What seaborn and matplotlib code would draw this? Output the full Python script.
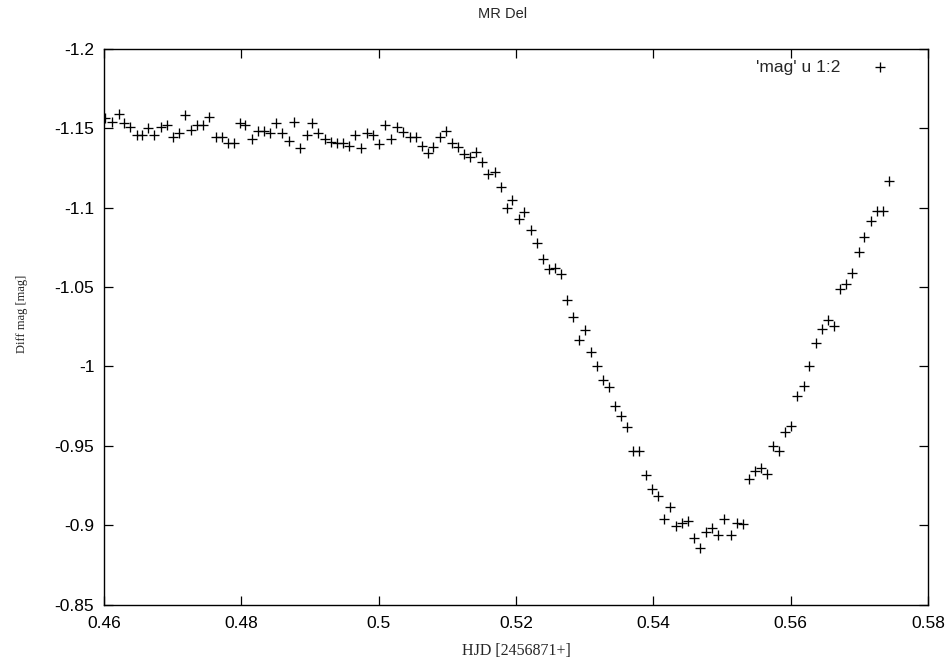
import matplotlib
matplotlib.use("Agg")
import matplotlib.pyplot as plt
import seaborn as sns
import pandas as pd

# ---- data ----
hjd = [
    0.46015, 0.46112, 0.46219, 0.46291, 0.46379, 0.46476, 0.46558, 0.46645, 0.46733, 0.46826,
    0.46914, 0.47001, 0.47088, 0.47185, 0.47268, 0.47355, 0.47447, 0.47534, 0.47627, 0.47715,
    0.47802, 0.47890, 0.47982, 0.48059, 0.48156, 0.48244, 0.48331, 0.48419, 0.48506, 0.48593,
    0.48691, 0.48773, 0.48860, 0.48953, 0.49035, 0.49122, 0.49216, 0.49303, 0.49390, 0.49478,
    0.49565, 0.49657, 0.49744, 0.49832, 0.49919, 0.50007, 0.50094,
    0.50181, 0.50273, 0.50360, 0.50458, 0.50540, 0.50628, 0.50715, 0.50797, 0.50895, 0.50982,
    0.51065, 0.51152, 0.51244, 0.51332, 0.51419, 0.51506, 0.51594, 0.51688, 0.51776, 0.51863,
    0.51948, 0.52038, 0.52122, 0.52216, 0.52303, 0.52390, 0.52482, 0.52570, 0.52657, 0.52749,
    0.52836, 0.52924, 0.53011, 0.53098, 0.53186, 0.53273, 0.53361, 0.53448, 0.53535, 0.53623,
    0.53710, 0.53798, 0.53891, 0.53978, 0.54066, 0.54158, 0.54245, 0.54332, 0.54420, 0.54512,
    0.54599, 0.54686, 0.54774, 0.54861, 0.54949, 0.55036, 0.55129, 0.55216, 0.55304, 0.55391,
    0.55483, 0.55571, 0.55662, 0.55745, 0.55833, 0.55924, 0.56012, 0.56099, 0.56187, 0.56274,
    0.56367, 0.56455, 0.56542, 0.56634, 0.56721, 0.56809, 0.56896, 0.56988, 0.57075, 0.57163,
    0.57250, 0.57338, 0.57431,
]
diff_mag = [
    -1.1563, -1.1542, -1.1590, -1.1531, -1.1506, -1.1458, -1.1458, -1.1500, -1.1458, -1.1510,
    -1.1521, -1.1447, -1.1473, -1.1582, -1.1489, -1.1521, -1.1521, -1.1573, -1.1447, -1.1447,
    -1.1405, -1.1405, -1.1531, -1.1521, -1.1431, -1.1483, -1.1483, -1.1468, -1.1531, -1.1468,
    -1.1422, -1.1542, -1.1378, -1.1458, -1.1531, -1.1468, -1.1431, -1.1416, -1.1410, -1.1410,
    -1.1389, -1.1458, -1.1378, -1.1473, -1.1458, -1.1399, -1.1521,
    -1.1431, -1.1510, -1.1479, -1.1443, -1.1447, -1.1389, -1.1346, -1.1380, -1.1443, -1.1485,
    -1.1409, -1.1380, -1.1338, -1.1317, -1.1353, -1.1290, -1.1210, -1.1227, -1.1130, -1.1000,
    -1.1048, -1.0929, -1.0971, -1.0860, -1.0780, -1.0679, -1.0612, -1.0618, -1.0581, -1.0419,
    -1.0310, -1.0167, -1.0228, -1.0089, -1.0005, -0.9918, -0.9868, -0.9751, -0.9688, -0.9617,
    -0.9468, -0.9468, -0.9317, -0.9229, -0.9186, -0.9038, -0.9117, -0.8997, -0.9016, -0.9027,
    -0.8918, -0.8859, -0.8956, -0.8981, -0.8939, -0.9040, -0.8939, -0.9016, -0.9008, -0.9290,
    -0.9339, -0.9358, -0.9321, -0.9501, -0.9466, -0.9589, -0.9627, -0.9816, -0.9879, -1.0005,
    -1.0150, -1.0236, -1.0293, -1.0257, -1.0486, -1.0518, -1.0591, -1.0719, -1.0817, -1.0918,
    -1.0979, -1.0979, -1.1170,
]
x_ticks = [0.46, 0.48, 0.50, 0.52, 0.54, 0.56, 0.58]
x_tick_labels = ["0.46", "0.48", "0.5", "0.52", "0.54", "0.56", "0.58"]
y_ticks = [-1.2, -1.15, -1.1, -1.05, -1.0, -0.95, -0.9, -0.85]
y_tick_labels = ["-1.2", "-1.15", "-1.1", "-1.05", "-1", "-0.95", "-0.9", "-0.85"]
series_label = "'mag' u 1:2"
title_text = "MR Del"
x_label = "HJD [2456871+]"
y_label = "Diff mag [mag]"

df = pd.DataFrame({"hjd": hjd, "mag": diff_mag})

sns.set_theme(style="ticks")
plt.rcParams["font.family"] = ["Liberation Sans", "DejaVu Sans"]
plt.rcParams["axes.unicode_minus"] = False

fig = plt.figure(figsize=(9.52, 6.63), dpi=100)
ax = fig.add_axes([104 / 952, 1 - 604.7 / 663, (928 - 104) / 952, (604.7 - 48.9) / 663])

sns.scatterplot(data=df, x="hjd", y="mag", marker="+", s=45, color="black",
                linewidth=0.95, ax=ax, label=series_label, legend=True)

ax.set_xlim(0.46, 0.58)
ax.set_ylim(-0.85, -1.2)
ax.set_xticks(x_ticks)
ax.set_xticklabels(x_tick_labels)
ax.set_yticks(y_ticks)
ax.set_yticklabels(y_tick_labels)
ax.tick_params(direction="in", length=6.5, width=0.9, color="black",
               top=True, right=True, labelsize=12.5, labelcolor="black", pad=7)
ax.tick_params(axis="x", pad=8)
for sp in ax.spines.values():
    sp.set_visible(True)
    sp.set_color("black")
    sp.set_linewidth(1.0)
ax.set_xlabel("")
ax.set_ylabel("")
ax.grid(False)

fig.text(503 / 952, 1 - 14 / 663, title_text, ha="center", va="center",
         fontsize=10.5, family=["Liberation Sans", "DejaVu Sans"])
fig.text(516 / 952, 1 - 651 / 663, x_label, ha="center", va="center",
         fontsize=11.5, family=["Liberation Serif", "DejaVu Serif"])
fig.text(22 / 952, 1 - 314 / 663, y_label, ha="center", va="center", rotation=90,
         fontsize=9, family=["Liberation Serif", "DejaVu Serif"])

leg = ax.legend(loc="upper right", bbox_to_anchor=(1 - 32 / 824, 1 - 4 / 556),
                frameon=False, markerfirst=False, fontsize=12.5,
                handletextpad=1.8, borderaxespad=0, handlelength=1.0)

fig.savefig("out.png", dpi=100)
